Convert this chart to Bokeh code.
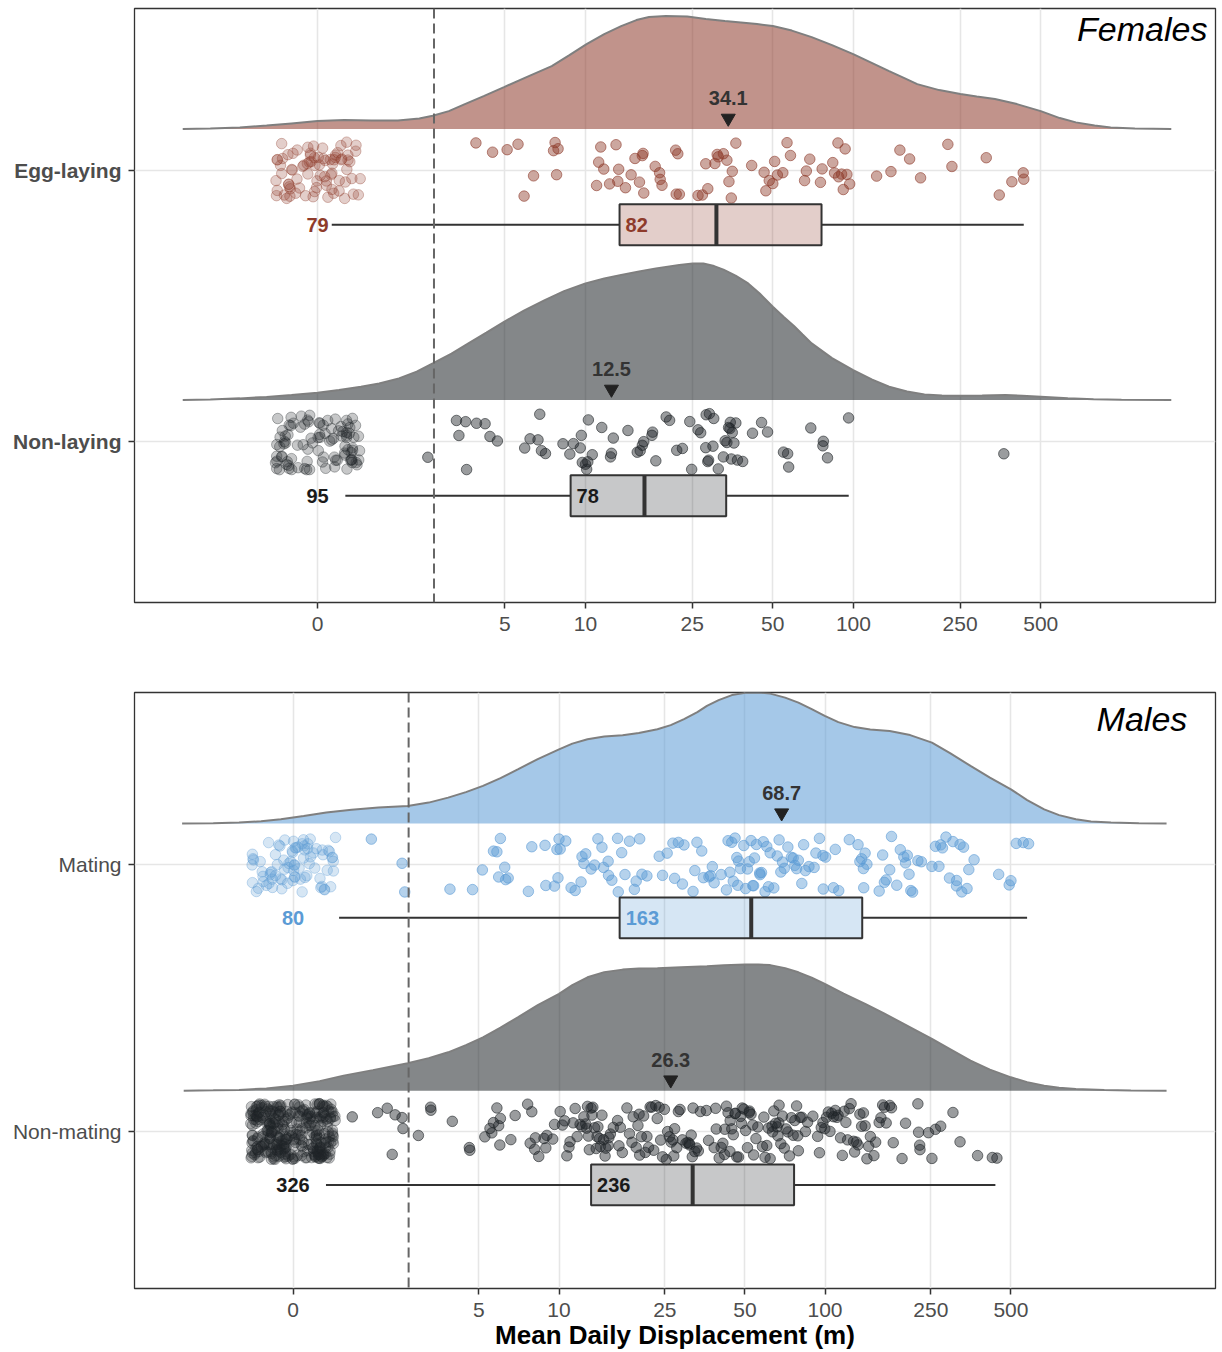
import numpy as np
from bokeh.plotting import figure
from bokeh.layouts import column
from bokeh.models import FixedTicker, Span
from bokeh.core.properties import value
from bokeh.embed import file_html
from bokeh.resources import INLINE

FONT = "Liberation Sans"

# ------------------------------------------------------------------ data
x_breaks = [1, 5, 10, 25, 50, 100, 250, 500]          # "0" is drawn at the 1 position
x_break_labels = ["0", "5", "10", "25", "50", "100", "250", "500"]
threshold_m = 2.72

# ---- Females: Egg-laying
egg_zero_n = 79
egg_values = [3.9, 4.5, 5.1, 5.6, 5.9, 6.4, 7.6, 7.7, 7.8, 7.9,
              11.0, 11.2, 11.4, 11.7, 12.3, 13.0, 13.2, 13.3, 14.1, 14.8,
              15.3, 15.9, 16.3, 16.4, 16.5, 18.2, 18.9, 19.0, 19.3, 21.7,
              21.8, 22.1, 22.4, 26.3, 27.3, 28.1, 28.6, 30.4, 31.0, 31.3,
              32.7, 33.7, 34.3, 35.0, 35.3, 36.4, 41.7, 46.4, 47.1, 48.5,
              50.0, 50.8, 52.0, 54.5, 56.5, 58.2, 65.7, 66.7, 68.7, 75.3,
              76.4, 83.7, 85.0, 87.5, 88.0, 90.3, 91.6, 93.1, 94.5, 96.8,
              122, 138, 149, 162, 178, 225, 233, 313, 350, 390, 430, 432]
egg_box = [1.13, 13.4, 30.8, 76.0, 432]      # whisker-lo, Q1, median, Q3, whisker-hi
egg_mean = 34.1
egg_dens_log10m = [-0.503, -0.40, -0.29, -0.19, -0.097, 0.0, 0.1, 0.2, 0.3, 0.38,
                   0.43, 0.49, 0.55, 0.62, 0.696, 0.78, 0.874, 0.94, 1.004, 1.07,
                   1.133, 1.19, 1.237, 1.30, 1.38, 1.449, 1.52, 1.58, 1.64, 1.699,
                   1.77, 1.844, 1.92, 1.999, 2.07, 2.133, 2.19, 2.238, 2.32, 2.399,
                   2.46, 2.528, 2.61, 2.699, 2.77, 2.83, 2.90, 2.96, 3.05, 3.186]
egg_dens = [0, 0.6, 1.7, 3.5, 5.7, 8.0, 9.0, 8.6, 8.6, 10.5,
            13.3, 18, 25, 33, 42, 52, 63, 74, 85, 95,
            103, 109, 112, 113, 112.5, 110, 108, 106.7, 105, 103,
            98.5, 92, 84, 75, 66, 58, 51, 45, 39, 35,
            32.5, 30, 25, 18, 11, 6.7, 3.5, 1.7, 0.6, 0]

# ---- Females: Non-laying
nonlay_zero_n = 95
nonlay_values = [2.58, 3.30, 3.37, 3.57, 3.6, 3.92, 4.22, 4.40, 4.69, 5.93,
                 6.21, 6.65, 6.75, 6.85, 7.09, 8.24, 8.74, 9.01, 9.56, 9.65,
                 9.73, 10.0, 10.1, 10.2, 10.25, 10.6, 11.5, 12.4, 12.5, 12.7,
                 14.4, 15.6, 16.0, 16.3, 16.5, 17.7, 17.8, 18.3, 20.0, 20.6,
                 21.9, 23.0, 24.5, 24.9, 26.3, 26.9, 28.1, 28.2, 28.6, 28.8,
                 29.0, 29.9, 30.1, 31.3, 32.7, 33.2, 33.7, 34.2, 34.6, 34.7,
                 35.0, 35.3, 35.8, 36.4, 36.9, 38.6, 42.0, 45.4, 47.8, 54.8,
                 56.8, 57.3, 69.3, 76.9, 77.2, 80.0, 95.9, 364]
nonlay_box = [1.27, 8.8, 16.6, 33.5, 96]
nonlay_mean = 12.5
nonlay_dens_log10m = [-0.503, -0.40, -0.29, -0.19, -0.097, 0.0, 0.08, 0.162, 0.23, 0.304,
                      0.37, 0.43, 0.50, 0.563, 0.63, 0.696, 0.77, 0.848, 0.92, 1.0,
                      1.07, 1.133, 1.20, 1.263, 1.35, 1.40, 1.44, 1.48, 1.515, 1.56,
                      1.607, 1.65, 1.699, 1.74, 1.778, 1.81, 1.844, 1.92, 1.999, 2.07,
                      2.133, 2.20, 2.265, 2.33, 2.399, 2.48, 2.567, 2.63, 2.699, 2.80,
                      2.896, 3.0, 3.186]
nonlay_dens = [0, 0.6, 1.7, 3.2, 5.0, 7.3, 10, 13.3, 16.5, 21.7,
               28.5, 36.7, 46.5, 56.7, 67.5, 78.3, 89.5, 100, 109, 116.7,
               121.5, 125, 128.5, 131.7, 135, 136.5, 136.5, 134, 130.5, 124.5,
               116.7, 106.5, 93.3, 83, 74, 65.5, 56.7, 42, 30, 20.5,
               13.3, 8.5, 5.7, 4.6, 4.3, 4.6, 5.0, 4.3, 3.3, 1.8,
               0.7, 0.2, 0]

# ---- Males: Mating
mating_zero_n = 80
mating_values = [1.97, 2.57, 2.63, 3.89, 4.73, 5.15, 5.67, 5.84, 5.93, 6.02,
                 6.25, 6.3, 6.44, 7.67, 7.90, 8.86, 8.92, 9.61, 9.82, 9.91,
                 10.0, 10.1, 10.6, 11.1, 11.5, 12.1, 12.2, 12.4, 12.6, 13.2,
                 13.6, 14.0, 14.5, 14.7, 15.3, 15.35, 15.8, 16.6, 16.7, 17.2,
                 17.7, 18.4, 19.2, 19.5, 20.1, 20.5, 21.4, 23.8, 24.5, 25.5,
                 26.8, 27.2, 28.1, 29.1, 29.5, 31.9, 32.4, 33.0, 34.4, 34.9,
                 36.6, 37.1, 37.7, 38.3, 40.7, 42.6, 43.2, 43.9, 44.6, 45.2,
                 45.9, 46.6, 47.0, 47.3, 48.1, 49.5, 50.3, 51.1, 51.9, 52.7,
                 53.5, 53.9, 54.3, 55.2, 56.8, 57.0, 57.7, 58.6, 59.5, 60.4,
                 61.3, 62.2, 64.2, 66.1, 67.2, 68.2, 69.2, 70.3, 72.5, 74.7,
                 75.9, 77.0, 78.2, 79.4, 81.8, 83.1, 84.4, 87.0, 91.0, 92.4,
                 95.3, 98.2, 98.5, 100.5, 107.6, 109.3, 112.6, 123.4, 133.1, 135.2,
                 137.3, 139.4, 139.8, 141.5, 143.7, 159.8, 164.7, 167.2, 169.8, 175.1,
                 177.8, 186.1, 191.9, 197.8, 200.8, 203.9, 207.0, 210.2, 213.4, 223.4,
                 230.3, 252.3, 260.1, 268.1, 272.2, 276.4, 284.9, 293.7, 302.7, 312.1,
                 312.5, 321.8, 326.7, 331.7, 341.9, 347.2, 363.4, 449.6, 492.5, 500.0,
                 523.4, 556.3, 582.4]
mating_box = [1.49, 16.9, 52.8, 138, 575]
mating_mean = 68.7
mating_dens_log10m = [-0.417, -0.30, -0.203, -0.12, -0.046, 0.04, 0.125, 0.22, 0.321, 0.431,
                      0.51, 0.583, 0.65, 0.714, 0.78, 0.845, 0.92, 1.0, 1.05, 1.107,
                      1.17, 1.239, 1.30, 1.37, 1.42, 1.47, 1.52, 1.556, 1.60, 1.65,
                      1.70, 1.75, 1.794, 1.85, 1.9, 1.95, 1.999, 2.05, 2.111, 2.17,
                      2.243, 2.32, 2.402, 2.47, 2.547, 2.62, 2.699, 2.76, 2.824, 2.88,
                      2.943, 3.0, 3.075, 3.18, 3.284]
mating_dens = [0, 0.4, 1.0, 2.4, 4.3, 7.5, 11, 13.8, 16, 17.7,
               21, 26, 31.5, 37.7, 45.5, 54.3, 64.5, 74.3, 80, 84.3,
               87, 88.3, 90.5, 94.3, 98.5, 104.5, 111.5, 117.7, 123.5, 128.5,
               130.8, 131.2, 130, 126, 121, 114.5, 107.7, 101.5, 96.5, 94,
               92.5, 88.5, 81, 70.5, 57.7, 46, 34.3, 23.5, 14.3, 8.5,
               4.3, 2.2, 1.0, 0.3, 0]

# ---- Males: Non-mating
nonmat_zero_n = 326
nonmat_values = [1.67, 2.08, 2.26, 2.36, 2.42, 2.57, 2.59, 2.96, 3.29, 3.3,
                 3.97, 4.62, 4.6, 5.26, 5.50, 5.59, 5.67, 5.84, 5.93, 5.99,
                 6.02, 6.59, 6.84, 7.62, 7.79, 7.90, 8.10, 8.15, 8.39, 8.78,
                 8.92, 9.0, 9.47, 9.62, 10.1, 10.3, 10.5, 10.7, 10.9, 11.0,
                 11.3, 11.5, 11.7, 12.0, 12.2, 12.4, 12.6, 12.7, 12.8, 12.9,
                 13.0, 13.2, 13.3, 13.4, 13.6, 13.8, 13.9, 14.0, 14.2, 14.3,
                 14.5, 14.7, 14.9, 15.0, 15.3, 15.4, 15.6, 16.0, 16.6, 16.8,
                 17.0, 17.3, 18.0, 18.4, 18.8, 19.0, 19.5, 19.8, 20.0, 20.1,
                 20.4, 20.8, 21.1, 21.4, 21.7, 22.0, 22.3, 22.7, 23.1, 23.4,
                 23.8, 24.1, 24.5, 24.9, 25.3, 25.6, 26.0, 26.4, 26.8, 27.0,
                 27.2, 27.7, 28.1, 28.5, 29.1, 30.0, 30.5, 30.9, 31.0, 31.4,
                 31.7, 31.9, 32.4, 32.9, 33.4, 34.0, 35.8, 36.5, 38.3, 38.8,
                 39.0, 40.0, 40.7, 41.3, 41.9, 42.0, 42.6, 43.2, 43.9, 44.0,
                 44.6, 45.2, 45.9, 46.0, 46.6, 47.3, 48.1, 48.5, 48.8, 49.5,
                 50.3, 51.1, 51.9, 52.0, 52.7, 53.5, 53.9, 55.0, 55.9, 58.2,
                 58.9, 59.5, 60.4, 61.3, 62.2, 63.2, 63.5, 64.2, 65.2, 66.1,
                 66.5, 67.0, 67.2, 68.2, 69.2, 70.3, 71.4, 72.5, 73.5, 74.7,
                 75.9, 77.0, 78.2, 79.0, 79.4, 80.6, 81.8, 84.4, 86.0, 90.0,
                 93.8, 95.3, 96.8, 98.2, 99.8, 101.3, 102.9, 104.4, 106.0, 107.6,
                 109.3, 110.9, 112.0, 114.4, 116.2, 118.0, 119.8, 121.6, 123.4, 125.3,
                 128.0, 129.2, 131.2, 133.1, 135.2, 137.3, 139.4, 141.5, 143.7, 145.9,
                 148.1, 152.7, 155.0, 159.8, 162.2, 164.7, 167.2, 169.8, 175.1, 177.8,
                 180.5, 194.8, 200.8, 223.4, 224.8, 226.9, 227.5, 244.8, 252.3, 260.1,
                 272.2, 302.7, 321.8, 374.6, 425.6, 442.8]
nonmat_box = [1.33, 13.2, 31.8, 76.5, 437]
nonmat_mean = 26.3
nonmat_dens_log10m = [-0.411, -0.30, -0.203, -0.10, 0.0, 0.1, 0.19, 0.30, 0.431, 0.51,
                      0.583, 0.65, 0.714, 0.78, 0.845, 0.92, 1.0, 1.05, 1.107, 1.17,
                      1.239, 1.30, 1.37, 1.459, 1.556, 1.62, 1.699, 1.75, 1.794, 1.85,
                      1.9, 1.95, 1.999, 2.07, 2.151, 2.22, 2.28, 2.34, 2.402, 2.47,
                      2.547, 2.62, 2.699, 2.76, 2.824, 2.88, 2.943, 3.05, 3.15, 3.284]
nonmat_dens = [0, 0.3, 0.7, 2.2, 5.0, 9.5, 15, 20.5, 27.3, 32.5,
               38.3, 45.5, 53.3, 63, 73.3, 85.5, 96.7, 105.5, 113.3, 118.5,
               121, 122, 122.3, 123.3, 124.3, 125.3, 126, 126.2, 125.5, 122.5,
               118.3, 113, 106.7, 97, 86.7, 77.5, 69, 60.5, 51.7, 41.5,
               30, 21, 13.3, 8.5, 5.0, 3.0, 1.7, 0.6, 0.2, 0]

# ------------------------------------------------------------------ styling
RED = "#8E3B2B"
BLUE = "#5B9BD5"
DARK = "#1F2428"
FEMALE_GROUPS = [
    dict(name="Egg-laying", y=2, color=RED, label_color=RED, zero_n=egg_zero_n,
         values=egg_values, box=egg_box, mean=egg_mean,
         dens_x=egg_dens_log10m, dens=egg_dens, seed=1.3),
    dict(name="Non-laying", y=1, color=DARK, label_color="#1A1A1A", zero_n=nonlay_zero_n,
         values=nonlay_values, box=nonlay_box, mean=nonlay_mean,
         dens_x=nonlay_dens_log10m, dens=nonlay_dens, seed=2.7),
]
MALE_GROUPS = [
    dict(name="Mating", y=2, color=BLUE, label_color=BLUE, zero_n=mating_zero_n,
         values=mating_values, box=mating_box, mean=mating_mean,
         dens_x=mating_dens_log10m, dens=mating_dens, seed=4.1),
    dict(name="Non-mating", y=1, color=DARK, label_color="#1A1A1A", zero_n=nonmat_zero_n,
         values=nonmat_values, box=nonmat_box, mean=nonmat_mean,
         dens_x=nonmat_dens_log10m, dens=nonmat_dens, seed=5.9),
]


def jitter(n, seed):
    """Deterministic jitter in [-1, 1] (hash of the index), positional only."""
    i = np.arange(n, dtype=float)
    u = np.sin(i * 12.9898 + seed * 78.233) * 43758.5453
    return (u - np.floor(u)) * 2 - 1


def draw_group(p, g, px_per_unit):
    y0 = g["y"]
    col = g["color"]
    base = y0 + 0.153
    # density slab
    dx = 10 ** np.array(g["dens_x"])
    dh = np.array(g["dens"]) / px_per_unit
    p.varea(x=dx, y1=np.full(len(dx), base), y2=base + dh,
            fill_color=col, fill_alpha=0.55)
    p.line(dx, base + dh, line_color="#7F7F7F", line_width=2)

    # zero values, drawn at the "0" break with jitter
    zeros = np.zeros(g["zero_n"])
    jx = jitter(len(zeros), g["seed"])
    jy = jitter(len(zeros), g["seed"] + 0.37)
    zx = np.where(zeros > 0, zeros, 1.0) * 10 ** (0.16 * jx)
    zy = y0 + 0.105 * jy
    p.scatter(zx, zy, size=10.5, fill_color=col, fill_alpha=0.25,
              line_color=col, line_alpha=0.35, line_width=1)

    # non-zero values
    v = np.array(g["values"], dtype=float)
    vy = y0 + 0.105 * jitter(len(v), g["seed"] + 0.71)
    p.scatter(v, vy, size=10.5, fill_color=col, fill_alpha=0.45,
              line_color=col, line_alpha=0.6, line_width=1)

    # box plot
    lo, q1, med, q3, hi = g["box"]
    by = y0 - 0.2
    hh = 0.076
    p.segment(x0=[lo, q3], y0=[by, by], x1=[q1, hi], y1=[by, by],
              line_color="#333333", line_width=2)
    p.quad(left=[q1], right=[q3], bottom=[by - hh], top=[by + hh],
           fill_color=col, fill_alpha=0.25, line_color="#333333", line_width=2)
    p.segment(x0=[med], y0=[by - hh], x1=[med], y1=[by + hh],
              line_color="#333333", line_width=4)

    # counts
    txt = dict(text_font=value(FONT), text_font_style="bold", text_font_size="20px",
               text_baseline="middle", text_color=g["label_color"])
    p.text(x=[1.0], y=[by], text=[str(len(zeros))], text_align="center", **txt)
    p.text(x=[q1], y=[by], text=[str(len(v))], text_align="left", x_offset=6, **txt)

    # mean marker + label
    p.scatter([g["mean"]], [base + 0.04], marker="inverted_triangle", size=14,
              fill_color="#222222", line_color="#222222")
    p.text(x=[g["mean"]], y=[base + 0.113], text=["%.1f" % g["mean"]],
           text_align="center", text_baseline="middle", text_font=value(FONT),
           text_font_style="bold", text_font_size="20px", text_color="#333333")


def make_panel(groups, x_log_range, y_range, height, b_top, b_bottom, px_per_unit,
               bold_labels, title, title_pos):
    p = figure(width=1222, height=height, x_axis_type="log",
               x_range=(10 ** x_log_range[0], 10 ** x_log_range[1]), y_range=y_range,
               output_backend="svg", toolbar_location=None,
               min_border_left=134, min_border_right=7,
               min_border_top=b_top, min_border_bottom=b_bottom)
    p.background_fill_color = "white"
    p.border_fill_color = "white"
    p.outline_line_color = "#333333"
    p.outline_line_width = 1.3

    p.xaxis.ticker = FixedTicker(ticks=x_breaks, minor_ticks=[])
    p.xaxis.major_label_overrides = {b: l for b, l in zip(x_breaks, x_break_labels)}
    p.yaxis.ticker = FixedTicker(ticks=[g["y"] for g in groups], minor_ticks=[])
    p.yaxis.major_label_overrides = {g["y"]: g["name"] for g in groups}
    for ax in (p.xaxis, p.yaxis):
        ax.axis_line_color = None
        ax.major_tick_line_color = "#333333"
        ax.major_tick_line_width = 1.5
        ax.major_tick_out = 6
        ax.major_tick_in = 0
        ax.minor_tick_line_color = None
        ax.major_label_text_font = FONT
        ax.major_label_text_color = "#4D4D4D"
        ax.major_label_text_font_size = "21px"
    p.xaxis.major_label_standoff = 8
    p.yaxis.major_label_standoff = 7
    if bold_labels:
        p.yaxis.major_label_text_font_style = "bold"

    p.xgrid.grid_line_color = "#E6E6E6"
    p.xgrid.grid_line_width = 1.6
    p.ygrid.ticker = FixedTicker(ticks=[g["y"] for g in groups], minor_ticks=[])
    p.ygrid.grid_line_color = "#E6E6E6"
    p.ygrid.grid_line_width = 1.6

    for g in groups:
        draw_group(p, g, px_per_unit)

    p.add_layout(Span(location=threshold_m, dimension="height", line_color="#666666",
                      line_width=2, line_dash="10 5"))

    p.text(x=[title_pos[0]], y=[title_pos[1]], text=[title], text_align="right",
           text_baseline="middle", text_font=value(FONT), text_font_style="italic",
           text_font_size="34px", text_color="black")
    return p


p1 = make_panel(FEMALE_GROUPS, (-0.683, 3.351), (0.406, 2.598), 650, 8, 48, 271,
                True, "Females", (10 ** 3.321, 2.524))
p2 = make_panel(MALE_GROUPS, (-0.596, 3.468), (0.412, 2.644), 702, 42, 64, 267,
                False, "Males", (10 ** 3.362, 2.543))
p2.xaxis.axis_label = "Mean Daily Displacement (m)"
p2.xaxis.axis_label_text_font = FONT
p2.xaxis.axis_label_text_font_style = "bold"
p2.xaxis.axis_label_text_font_size = "26px"
p2.xaxis.axis_label_text_color = "black"
p2.xaxis.axis_label_standoff = 0

layout = column(p1, p2)
open("out.html", "w").write(file_html(layout, INLINE))
